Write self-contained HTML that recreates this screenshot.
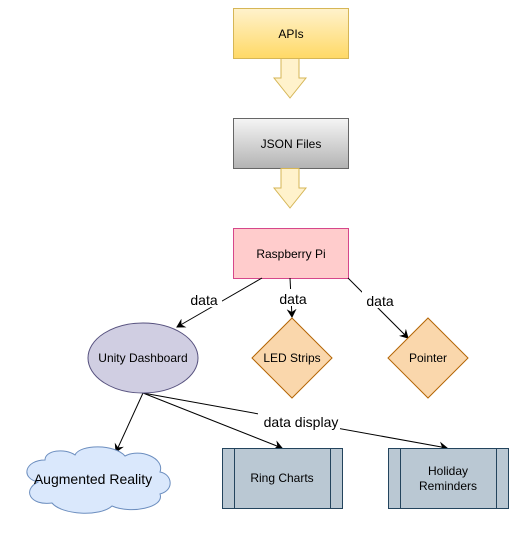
<!DOCTYPE html>
<html><head><meta charset="utf-8"><style>body{margin:0;background:#fff}</style></head><body>
<svg width="517" height="528" xmlns="http://www.w3.org/2000/svg" font-family="Liberation Sans, Helvetica, sans-serif">
<defs>
<linearGradient id="gy" x1="0" y1="0" x2="0" y2="1"><stop offset="0" stop-color="#fff2cc"/><stop offset="1" stop-color="#ffd966"/></linearGradient>
<linearGradient id="gg" x1="0" y1="0" x2="0" y2="1"><stop offset="0" stop-color="#f5f5f5"/><stop offset="1" stop-color="#b3b3b3"/></linearGradient>
<marker id="a" markerWidth="10" markerHeight="10" refX="8" refY="5" orient="auto" markerUnits="userSpaceOnUse"><path d="M0,0 L9,5 L0,10 L3,5 z" fill="#000"/></marker>
</defs>
<rect x="233.5" y="8.5" width="115" height="50" fill="url(#gy)" stroke="#d6b656"/>
<text x="291" y="38" font-size="12" text-anchor="middle">APIs</text>
<path d="M281,58.5 H299 V78 H306 L290,98 L274,78 H281 Z" fill="#fff2cc" stroke="#d6b656"/>
<rect x="233.5" y="118.5" width="115" height="50" fill="url(#gg)" stroke="#666"/>
<text x="291" y="148" font-size="12" text-anchor="middle">JSON Files</text>
<path d="M281,168.5 H299 V188 H306 L290,208 L274,188 H281 Z" fill="#fff2cc" stroke="#d6b656"/>
<rect x="233.5" y="228.5" width="115" height="50" fill="#ffcccc" stroke="#d6478a"/>
<text x="291" y="258" font-size="12" text-anchor="middle">Raspberry Pi</text>

<g stroke="#000" fill="none" stroke-width="1">
<path d="M262,278 L177,327" marker-end="url(#a)"/>
<path d="M290,278 L292,317" marker-end="url(#a)"/>
<path d="M348,278 L408,338" marker-end="url(#a)"/>
<path d="M143,393 L116,452" marker-end="url(#a)"/>
<path d="M143,393 L282,448" marker-end="url(#a)"/>
<path d="M143,393 L447,448" marker-end="url(#a)"/>
</g>
<g font-size="14" text-anchor="middle">
<rect x="186" y="290" width="36" height="17" fill="#fff"/><text x="204" y="305">data</text>
<rect x="277" y="289" width="32" height="17" fill="#fff"/><text x="293" y="304">data</text>
<rect x="362" y="291" width="36" height="17" fill="#fff"/><text x="380" y="306">data</text>
<rect x="258" y="412" width="82" height="18" fill="#fff"/><text x="301" y="427">data display</text>
</g>

<ellipse cx="143" cy="358" rx="55" ry="35" fill="#d0cee2" stroke="#56517e"/>
<text x="143" y="362" font-size="12" text-anchor="middle">Unity Dashboard</text>
<path d="M292,318 L332,358 L292,398 L252,358 Z" fill="#fad7ac" stroke="#b46504"/>
<text x="292" y="362" font-size="12" text-anchor="middle">LED Strips</text>
<path d="M428,318 L468,358 L428,398 L388,358 Z" fill="#fad7ac" stroke="#b46504"/>
<text x="428" y="362" font-size="12" text-anchor="middle">Pointer</text>

<path d="M45,460 C25,460 20,478 38,482 C22,490 30,506 52,503 C62,515 100,517 112,506 C130,514 165,508 160,494 C175,490 172,474 160,472 C165,458 140,448 125,456 C115,444 80,444 75,455 C65,448 45,450 45,460 Z" fill="#dae8fc" stroke="#6c8ebf"/>
<text x="93" y="484" font-size="14" text-anchor="middle">Augmented Reality</text>

<rect x="222.5" y="448.5" width="120" height="60" fill="#bac8d3" stroke="#23445d"/>
<path d="M234.5,448.5 V508.5 M330.5,448.5 V508.5" stroke="#23445d"/>
<text x="282" y="482" font-size="12" text-anchor="middle">Ring Charts</text>
<rect x="388.5" y="448.5" width="120" height="60" fill="#bac8d3" stroke="#23445d"/>
<path d="M400.5,448.5 V508.5 M496.5,448.5 V508.5" stroke="#23445d"/>
<text x="448" y="475" font-size="12" text-anchor="middle">Holiday</text>
<text x="448" y="490" font-size="12" text-anchor="middle">Reminders</text>
</svg>
</body></html>
